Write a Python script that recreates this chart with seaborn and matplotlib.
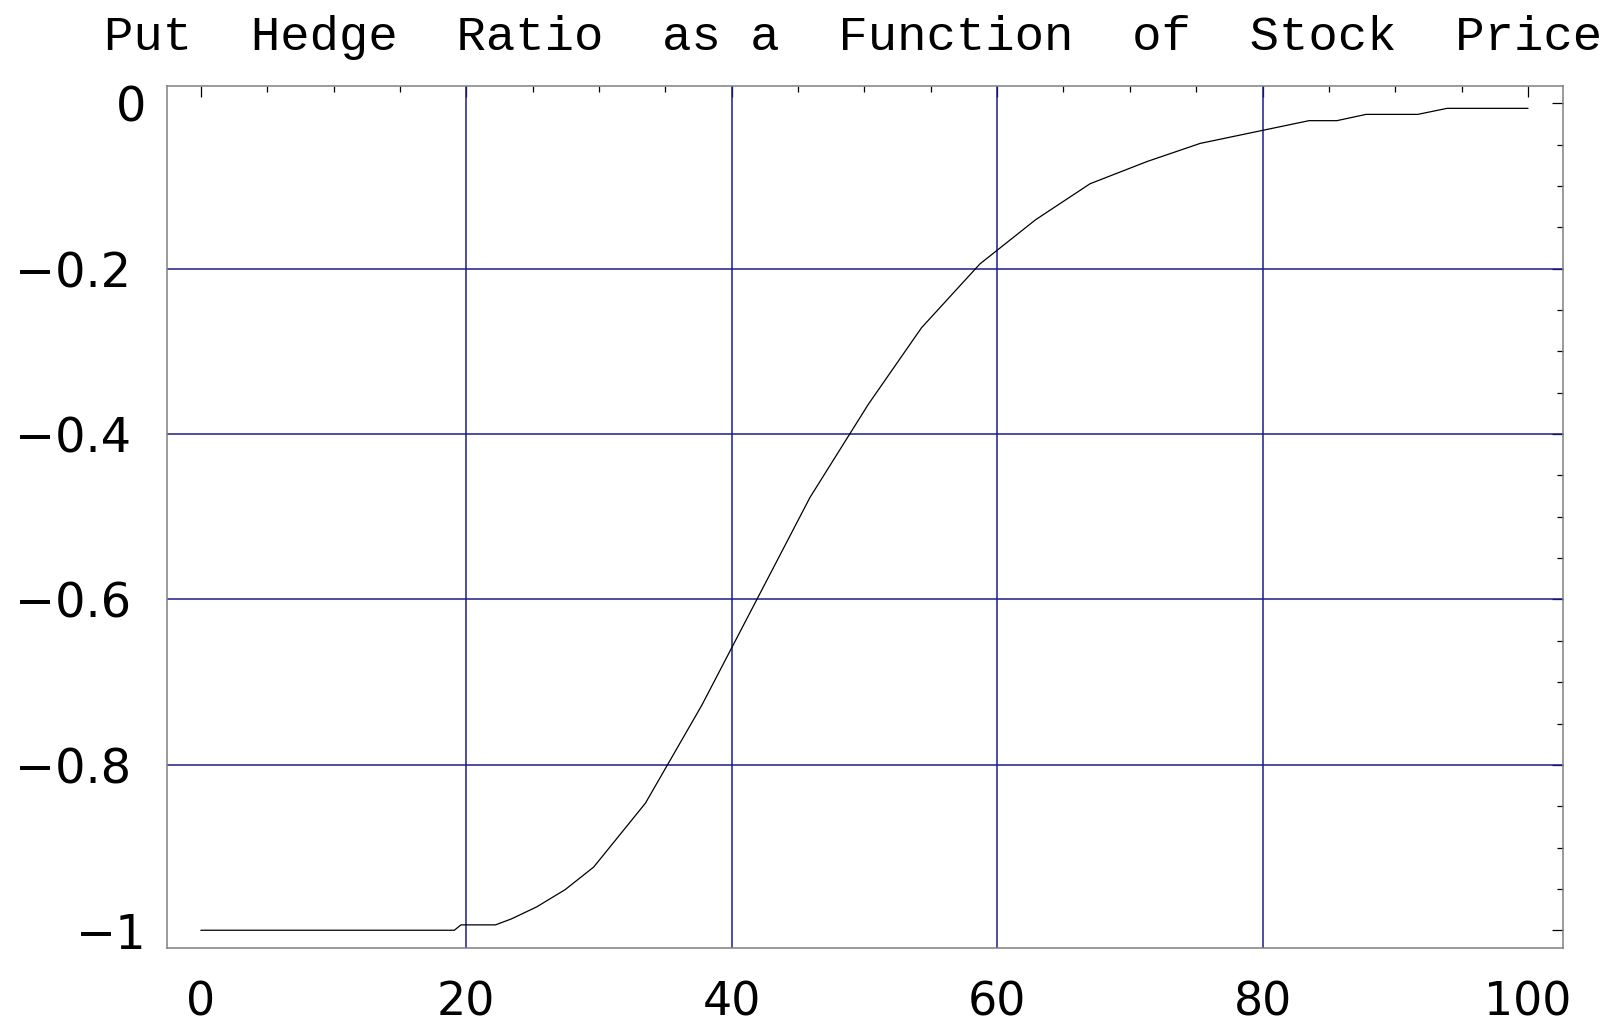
import matplotlib
matplotlib.use("Agg")
import matplotlib.pyplot as plt
import seaborn as sns
import pandas as pd

# Put delta (hedge ratio) against the underlying stock price
stock_price = [0, 19.1, 19.6, 22.2, 23.4, 25.3, 27.45, 29.6, 33.5, 37.75,
               45.9, 50.3, 54.3, 58.7, 62.9, 67.0, 71.3, 75.3, 83.5, 85.6,
               87.8, 91.7, 93.9, 100]
hedge_ratio = [-1.0, -1.0, -0.9935, -0.9935, -0.9863, -0.9718, -0.9509,
               -0.9236, -0.8463, -0.7278, -0.4765, -0.3638, -0.2714, -0.1942,
               -0.1407, -0.0972, -0.0703, -0.0484, -0.0209, -0.0209, -0.0133,
               -0.0133, -0.0060, -0.0060]

x_ticks = [0, 20, 40, 60, 80, 100]
x_tick_labels = ["0", "20", "40", "60", "80", "100"]
y_ticks = [-1.0, -0.8, -0.6, -0.4, -0.2, 0.0]
y_tick_labels = ["\u22121", "\u22120.8 ", "\u22120.6 ", "\u22120.4 ", "\u22120.2 ", "0"]
grid_x = [20, 40, 60, 80]
grid_y = [-0.2, -0.4, -0.6, -0.8]
title = "Put  Hedge  Ratio  as a  Function  of  Stock  Price"

df = pd.DataFrame({"price": stock_price, "ratio": hedge_ratio})

sns.set_theme(style="white")
plt.rcParams["font.family"] = ["DejaVu Sans"]

fig = plt.figure(figsize=(16.15, 10.24), dpi=100)
ax = fig.add_axes([0.1034, 0.0746, 0.8641, 0.8414])

grid_color = "#1c1c8c"
for gx in grid_x:
    ax.axvline(gx, color=grid_color, lw=1.1, zorder=1)
for gy in grid_y:
    ax.axhline(gy, color=grid_color, lw=1.1, zorder=1)

sns.lineplot(data=df, x="price", y="ratio", ax=ax, color="black",
             lw=0.9, zorder=3, estimator=None)

ax.set_xlim(-2.55, 102.6)
ax.set_ylim(-1.021, 0.021)

ax.set_xticks(x_ticks)
ax.set_xticklabels(x_tick_labels)
ax.set_yticks(y_ticks)
ax.set_yticklabels(y_tick_labels)
ax.set_xticks([v for v in range(5, 100, 5) if v % 20], minor=True)
ax.set_yticks([-0.95, -0.9, -0.85, -0.75, -0.7, -0.65, -0.55, -0.5, -0.45,
               -0.35, -0.3, -0.25, -0.15, -0.1, -0.05], minor=True)

ax.tick_params(which="both", direction="in", top=True, right=True,
               color="black", width=0.9)
ax.tick_params(which="major", length=8)
ax.tick_params(which="minor", length=4)
ax.tick_params(axis="x", which="major", pad=24, labelsize=33, labelcolor="black")
ax.tick_params(axis="y", which="major", pad=15, labelsize=34.5, labelcolor="black")

for side in ["left", "right", "top", "bottom"]:
    ax.spines[side].set_color("#808080")
    ax.spines[side].set_linewidth(1.1)
    ax.spines[side].set_visible(True)

ax.set_xlabel("")
ax.set_ylabel("")
ax.set_facecolor("white")

fig.text(0.0645, 1 - 49.5 / 1024, title, ha="left", va="baseline",
         fontsize=35.3, family=["Liberation Mono", "DejaVu Sans Mono"],
         color="black")

fig.savefig("out.png", dpi=100, facecolor="white")
